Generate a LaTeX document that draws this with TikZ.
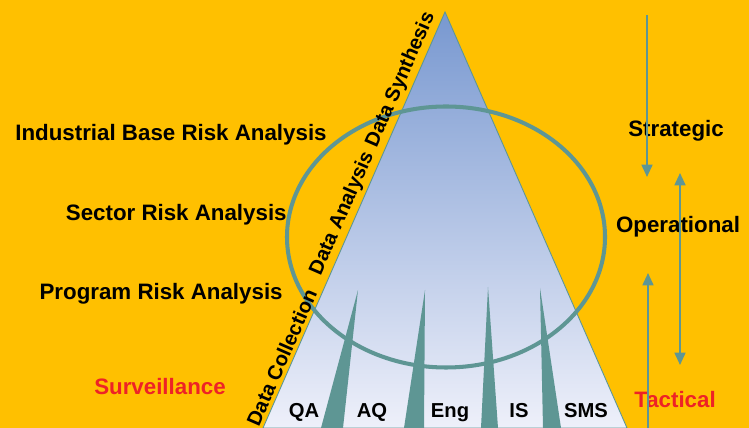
\documentclass[tikz,border=0pt]{standalone}
\usepackage{fontspec}
\setmainfont{Liberation Sans}
\usetikzlibrary{arrows.meta}

\definecolor{gold}{RGB}{255,192,0}
\definecolor{teal}{RGB}{94,150,148}
\definecolor{topblue}{RGB}{120,152,208}
\definecolor{lowblue}{RGB}{238,240,250}
\definecolor{alarm}{RGB}{238,34,38}

\tikzset{
  big/.style={font=\fontsize{12.7}{15}\selectfont\bfseries, inner sep=0pt},
  small/.style={font=\fontsize{11.5}{14}\selectfont\bfseries, inner sep=0pt},
  spike/.style={fill=teal, draw=none},
  flow/.style={draw=teal, line width=1.1pt, -{Triangle[width=6.2pt,length=7pt]}},
}

\begin{document}
\begin{tikzpicture}[x=0.02cm, y=0.02cm]

    % background
    \fill[gold] (0,0) rectangle (749,428);
    \useasboundingbox (0,0) rectangle (749,428);

    % Pyramid
    \coordinate (apex) at (445,416);
    \coordinate (baseL) at (263,0);
    \coordinate (baseR) at (627,0);
    \shade[top color=topblue, bottom color=lowblue, draw=teal, line width=0.5pt]
        (apex) -- (baseL) -- (baseR) -- cycle;

    % Spikes
    \fill[spike] (358,138) -- (321,0) -- (343,0) -- cycle;
    \fill[spike] (425,138) -- (404,0) -- (424,0) -- cycle;
    \fill[spike] (488,141) -- (481,0) -- (498,0) -- cycle;
    \fill[spike] (540,140) -- (543,0) -- (561,0) -- cycle;

    % Ring
    \draw[teal, line width=2.3pt] (446,191) ellipse [x radius=159, y radius=130.5];

    % Edge labels
    \path (baseL) -- (apex)
        node[small, pos=0.159, sloped, above=2pt] (coll) {Data Collection}
        node[small, pos=0.503, sloped, above=2pt] (anal) {Data Analysis}
        node[small, pos=0.824, sloped, above=2pt] (synt) {Data Synthesis};

    % Left column
    \node[big, anchor=base east] (ind) at (327,287) {Industrial Base Risk Analysis};
    \node[big, anchor=base east] (sec) at (287,207) {Sector Risk Analysis};
    \node[big, anchor=base east] (prg) at (283,128) {Program Risk Analysis};
    \node[big, anchor=base, text=alarm] (surv) at (160,33) {Surveillance};

    % Functions
    \node[small, anchor=base] (qa) at (304,10) {QA};
    \node[small, anchor=base] (aq) at (372,10) {AQ};
    \node[small, anchor=base] (eng) at (450,10) {Eng};
    \node[small, anchor=base] (is) at (519,10) {IS};
    \node[small, anchor=base] (sms) at (586,10) {SMS};

    % Right column
    \node[big, anchor=base] (strat) at (676,291) {Strategic};
    \node[big, anchor=base] (oper) at (678,195) {Operational};
    \node[big, anchor=base, text=alarm] (tact) at (675,20) {Tactical};

    % Arrows
    \coordinate (s1) at (647,413);
    \coordinate (e1) at (647,251);
    \coordinate (s2) at (680,255);
    \coordinate (e2) at (680,63);
    \coordinate (s3) at (648,0);
    \coordinate (e3) at (648,155);
    \draw[flow] (s1) -- (e1);
    \draw[flow, {Triangle[width=6.2pt,length=7pt]}-{Triangle[width=6.2pt,length=7pt]}] (s2) -- (e2);
    \draw[flow] (s3) -- (e3);

\end{tikzpicture}
\end{document}
